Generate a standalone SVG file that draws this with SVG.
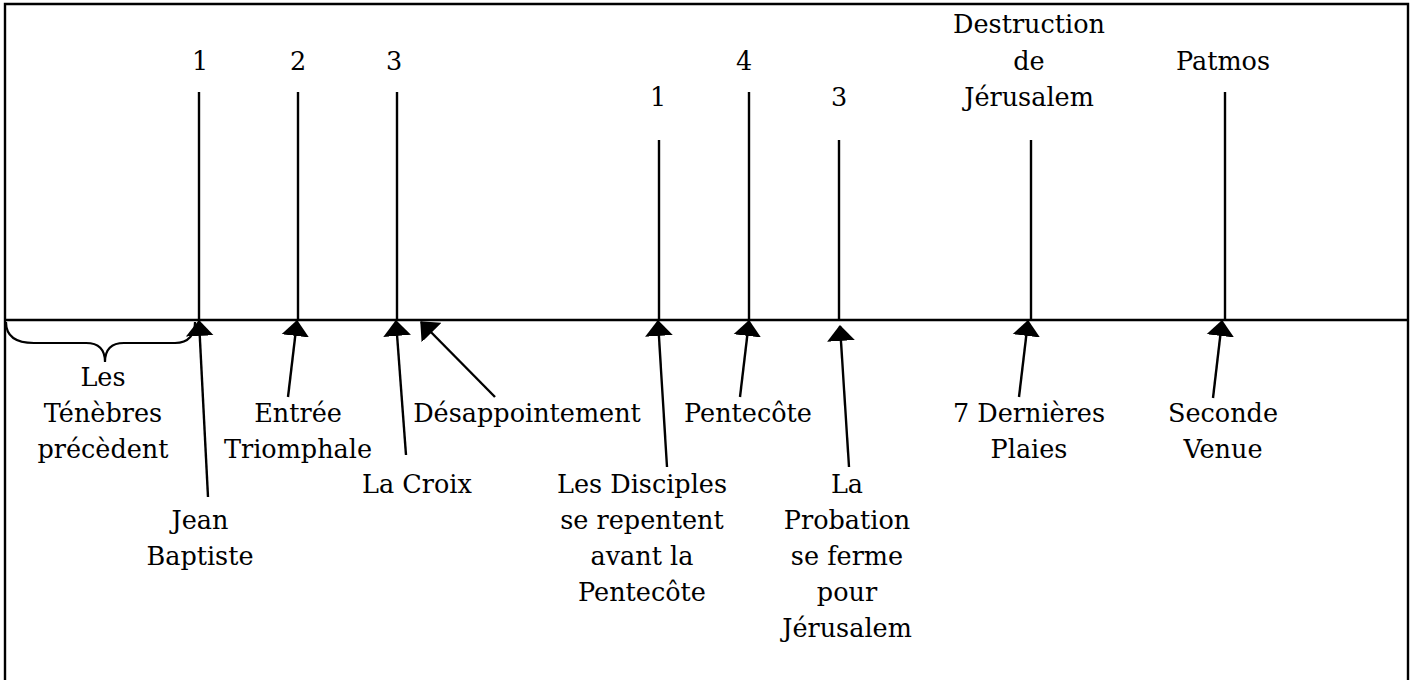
<svg xmlns="http://www.w3.org/2000/svg" width="1416" height="680" viewBox="0 0 1416 680">
<style>
text{font-family:"DejaVu Serif","Liberation Serif",serif;font-size:25.5px;fill:#000;text-anchor:middle}
.frame{fill:none;stroke:#000;stroke-width:2.4}
.tick{stroke:#000;stroke-width:2.4}
.arr{stroke:#000;stroke-width:2.4;fill:none;marker-end:url(#ah)}
</style>
<defs>
<marker id="ah" markerUnits="userSpaceOnUse" markerWidth="16" markerHeight="28" viewBox="0 0 15 26" refX="14" refY="13" orient="auto">
<path d="M0,0 L15,13 L0,26 Z" fill="#000"/>
</marker>
</defs>
<rect width="1416" height="680" fill="#fff"/>
<g id="frame">
<path class="frame" d="M5,680 L5,4 L1408,4 L1408,680"/>
<line class="tick" x1="5" y1="320" x2="1408" y2="320"/>
</g>
<g id="t1"><line class="tick" x1="199" y1="92" x2="199" y2="320"/><text x="200" y="70">1</text></g>
<g id="t2"><line class="tick" x1="298" y1="92" x2="298" y2="320"/><text x="298" y="70">2</text></g>
<g id="t3"><line class="tick" x1="397" y1="92" x2="397" y2="320"/><text x="394" y="70">3</text></g>
<g id="t1b"><line class="tick" x1="659" y1="140" x2="659" y2="320"/><text x="658" y="106">1</text></g>
<g id="t4"><line class="tick" x1="749" y1="92" x2="749" y2="320"/><text x="744" y="70">4</text></g>
<g id="t3b"><line class="tick" x1="839" y1="140" x2="839" y2="320"/><text x="839" y="106">3</text></g>
<g id="tdest"><line class="tick" x1="1031" y1="140" x2="1031" y2="320"/><text x="1029" y="33">Destruction</text><text x="1029" y="70">de</text><text x="1029" y="106">Jérusalem</text></g>
<g id="tpatmos"><line class="tick" x1="1225" y1="92" x2="1225" y2="320"/><text x="1223" y="70">Patmos</text></g>
<g id="tenebres">
<path d="M6,322 C6,336 16,343 34,343 L86,343 C99,343 105,350 105,362 C105,350 111,343 124,343 L175,343 C189,343 195,334 195,322" fill="none" stroke="#000" stroke-width="2.2"/>
<text x="103" y="386">Les</text><text x="103" y="422">Ténèbres</text><text x="103" y="458">précèdent</text>
</g>
<g id="jean"><text x="200" y="529">Jean</text><text x="200" y="565">Baptiste</text></g>
<g id="entree"><text x="298" y="422">Entrée</text><text x="298" y="458">Triomphale</text></g>
<g id="croix"><text x="417" y="493">La Croix</text></g>
<g id="desapp"><text x="527" y="422">Désappointement</text></g>
<g id="disciples"><text x="642" y="493">Les Disciples</text><text x="642" y="529">se repentent</text><text x="642" y="565">avant la</text><text x="642" y="601">Pentecôte</text></g>
<g id="pentecote"><text x="748" y="422">Pentecôte</text></g>
<g id="probation"><text x="847" y="493">La</text><text x="847" y="529">Probation</text><text x="847" y="565">se ferme</text><text x="847" y="601">pour</text><text x="847" y="637">Jérusalem</text></g>
<g id="plaies"><text x="1029" y="422">7 Dernières</text><text x="1029" y="458">Plaies</text></g>
<g id="seconde"><text x="1223" y="422">Seconde</text><text x="1223" y="458">Venue</text></g>
<g id="connectors">
<line class="arr" x1="208" y1="497" x2="199" y2="321"/>
<line class="arr" x1="288" y1="397" x2="297" y2="321"/>
<line class="arr" x1="406" y1="455" x2="396" y2="321"/>
<line class="arr" x1="495" y1="397" x2="421" y2="322"/>
<line class="arr" x1="667" y1="467" x2="658" y2="321"/>
<line class="arr" x1="740" y1="397" x2="749" y2="321"/>
<line class="arr" x1="849" y1="467" x2="840" y2="326"/>
<line class="arr" x1="1019" y1="397" x2="1028" y2="321"/>
<line class="arr" x1="1213" y1="398" x2="1222" y2="321"/>
</g>
</svg>
